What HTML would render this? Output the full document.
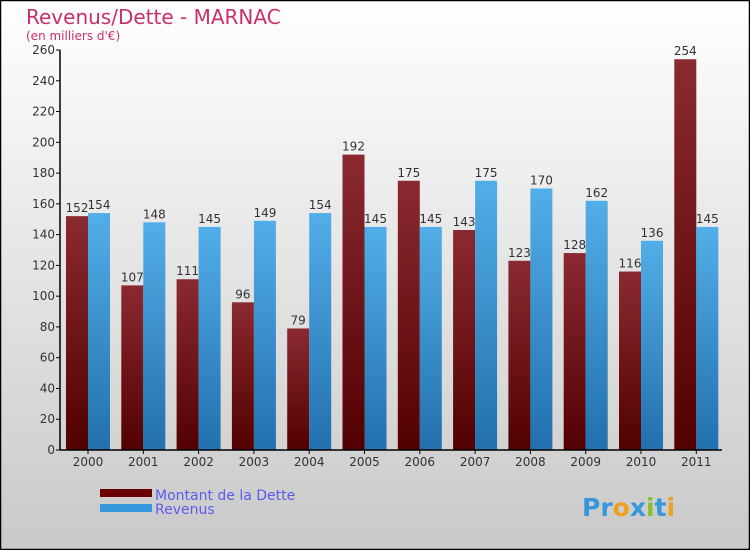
<!DOCTYPE html>
<html><head><meta charset="utf-8"><style>
body{margin:0}
#c{width:750px;height:550px;position:relative;overflow:hidden;font-family:"DejaVu Sans","Liberation Sans",sans-serif}
</style></head><body>
<div id="c">
<svg id="s" width="750" height="550" xmlns="http://www.w3.org/2000/svg">
<defs>
<linearGradient id="bg" x1="0" y1="0" x2="0" y2="1"><stop offset="0" stop-color="#ffffff"/><stop offset="1" stop-color="#c9c9c9"/></linearGradient>
<linearGradient id="gd" x1="0" y1="0" x2="0" y2="1"><stop offset="0" stop-color="#8a2a30"/><stop offset="1" stop-color="#520000"/></linearGradient>
<linearGradient id="gr" x1="0" y1="0" x2="0" y2="1"><stop offset="0" stop-color="#52aee8"/><stop offset="1" stop-color="#2270ad"/></linearGradient>
</defs>
<rect x="0.5" y="0.5" width="749" height="549" fill="url(#bg)" stroke="#000" stroke-width="1.5"/>
<text x="26" y="24" font-size="20" fill="#c8306a">Revenus/Dette - MARNAC</text>
<text x="26" y="40" font-size="12" fill="#c8306a">(en milliers d'€)</text>
<g id="plot"></g>
<rect x="100" y="489" width="52" height="8" fill="#6a0000"/>
<text x="155" y="500" font-size="14" fill="#5b5bf0">Montant de la Dette</text>
<rect x="100" y="504" width="52" height="8" fill="#3597dc"/>
<text x="155" y="514" font-size="14" fill="#5b5bf0">Revenus</text>
<text x="582" y="516" font-size="25" font-weight="bold" fill="#3597dc"><tspan fill="#3597dc">Pr</tspan><tspan fill="#f0a020">o</tspan><tspan fill="#3597dc">x</tspan><tspan fill="#88c030">i</tspan><tspan fill="#3597dc">t</tspan><tspan fill="#f0a020">i</tspan></text>
</svg>
</div>
<script>
const years=["2000","2001","2002","2003","2004","2005","2006","2007","2008","2009","2010","2011"];
const dette=[152,107,111,96,79,192,175,143,123,128,116,254];
const revenus=[154,148,145,149,154,145,145,175,170,162,136,145];
const yTicks=[0,20,40,60,80,100,120,140,160,180,200,220,240,260];
const NS="http://www.w3.org/2000/svg";
const g=document.getElementById('plot');
const x0=60,x1=722,yTop=50,yBot=450,yMax=260;
const y=v=>yBot-(v/yMax)*(yBot-yTop);
const step=55.3;
const cx=i=>88+step*i;
function el(t,a){const e=document.createElementNS(NS,t);for(const k in a)e.setAttribute(k,a[k]);g.appendChild(e);return e;}
yTicks.forEach(t=>{
 const l=el('line',{x1:x0-4,x2:x0,y1:y(t),y2:y(t),stroke:'#000'});
 
 
 const tx=el('text',{x:x0-5,y:y(t)+4,'font-size':12,fill:'#333','text-anchor':'end'});
 tx.textContent=t;
 
 
});
years.forEach((yr,i)=>{
 const c=cx(i);
 const b1=el('rect',{x:c-22,y:y(dette[i]),width:22,height:yBot-y(dette[i]),fill:'url(#gd)'});
 
 
 const b2=el('rect',{x:c,y:y(revenus[i]),width:22,height:yBot-y(revenus[i]),fill:'url(#gr)'});
 
 
 const t1=el('text',{x:c-11,y:y(dette[i])-4,'font-size':12,fill:'#333','text-anchor':'middle'});
 t1.textContent=dette[i];
 
 
 const t2=el('text',{x:c+11,y:y(revenus[i])-4,'font-size':12,fill:'#333','text-anchor':'middle'});
 t2.textContent=revenus[i];
 
 
 const tk=el('line',{x1:c,x2:c,y1:yBot,y2:yBot+4,stroke:'#000'});
 
 
 const xl=el('text',{x:c,y:yBot+16,'font-size':12,fill:'#333','text-anchor':'middle'});
 xl.textContent=yr;
 
 
});
const ya=el('line',{x1:x0,x2:x0,y1:yTop,y2:yBot,stroke:'#000','stroke-width':1.5});


const xa=el('line',{x1:x0,x2:x1,y1:yBot,y2:yBot,stroke:'#000','stroke-width':1.5});


</script>
</body></html>
